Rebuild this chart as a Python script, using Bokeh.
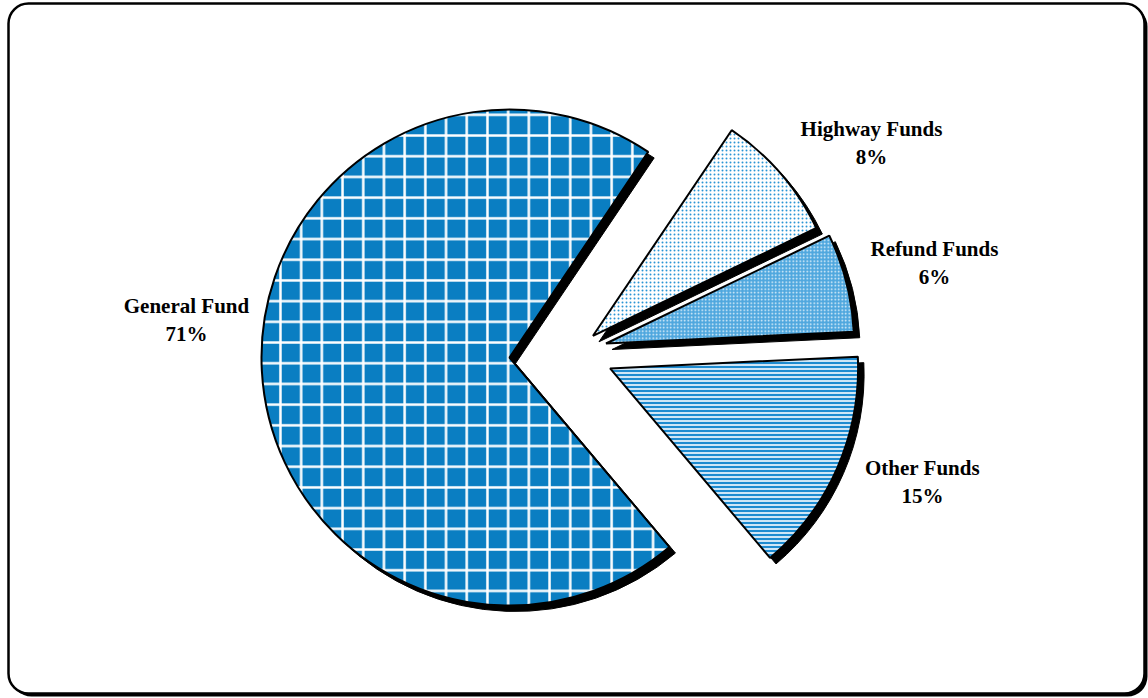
import math
from bokeh.plotting import figure
from bokeh.models import Range1d, BoxAnnotation, ColumnDataSource
from bokeh.core.properties import value
from bokeh.embed import file_html
from bokeh.resources import INLINE

# ---- data ----
names = ["Highway Funds", "Refund Funds", "Other Funds", "General Fund"]
shares = [8.4, 6.4, 14.6, 70.6]          # percent
labels_pct = [f"{round(s)}%" for s in shares]

# ---- layout / style ----
W, H = 1148, 698
CX, CY, R = 509, H - 357, 248
START_DEG = 56.0                     # first slice starts here, going clockwise
explode = [(83.5, 21.7), (96.5, 14), (100.6, -10.9), (0, 0)]   # per-slice offsets (px)
SHADOW = (6, -6)
fills = ["white", "#4FA7DE", "#CFE6F6", "#0A7EC2"]
hatch_patterns = ["dot", "dot", "horizontal_line", "cross"]
hatch_colors = ["#2A95D5", "#EAF5FC", "#1E8BD0", "white"]
hatch_scales = [4, 3.5, 4, 20.7]
hatch_weights = [2.4, 2.2, 2, 2.5]
label_pos = [(871, 128), (934, 248), (922, 467), (186, 305)]  # screen px (name line)
LINE_GAP = 28

p = figure(width=W, height=H, x_range=Range1d(0, W), y_range=Range1d(0, H),
           output_backend="svg", toolbar_location=None, min_border=0)
p.axis.visible = False
p.grid.visible = False
p.outline_line_color = None
p.background_fill_color = "white"
p.border_fill_color = "white"

# frame with shadow
p.add_layout(BoxAnnotation(left=11, right=1147, top=H - 6, bottom=H - 696,
                           fill_color="black", fill_alpha=1, line_color=None,
                           border_radius=20, level="underlay"))
p.add_layout(BoxAnnotation(left=8, right=1144, top=H - 3, bottom=H - 693,
                           fill_color="white", fill_alpha=1, line_color="black",
                           line_alpha=1, line_width=2.5, border_radius=20,
                           level="underlay"))

total = float(sum(shares))
cum = 0.0
xs, ys, a0s, a1s = [], [], [], []
for i, s in enumerate(shares):
    span = s / total * 2 * math.pi
    hi = math.radians(START_DEG) - cum
    lo = hi - span
    cum += span
    xs.append(CX + explode[i][0])
    ys.append(CY + explode[i][1])
    a0s.append(lo)
    a1s.append(hi)

# shadows
p.wedge(x=[x + SHADOW[0] for x in xs], y=[y + SHADOW[1] for y in ys], radius=R,
        start_angle=a0s, end_angle=a1s, fill_color="black", line_color="black",
        line_width=1)

for i in range(len(shares)):
    p.wedge(x=xs[i], y=ys[i], radius=R, start_angle=a0s[i], end_angle=a1s[i],
            fill_color=fills[i], hatch_pattern=hatch_patterns[i],
            hatch_color=hatch_colors[i], hatch_scale=hatch_scales[i],
            hatch_weight=hatch_weights[i], line_color="black", line_width=2)

src = ColumnDataSource(dict(
    x=[lp[0] for lp in label_pos],
    y1=[H - lp[1] for lp in label_pos],
    y2=[H - lp[1] - LINE_GAP for lp in label_pos],
    name=names,
    pct=labels_pct,
))
for ycol, tcol in (("y1", "name"), ("y2", "pct")):
    p.text(x="x", y=ycol, text=tcol, source=src, text_font=value("Liberation Serif"),
           text_font_style="bold", text_font_size="21px", text_color="black",
           text_align="center", text_baseline="middle")

open("out.html", "w").write(file_html(p, INLINE))
